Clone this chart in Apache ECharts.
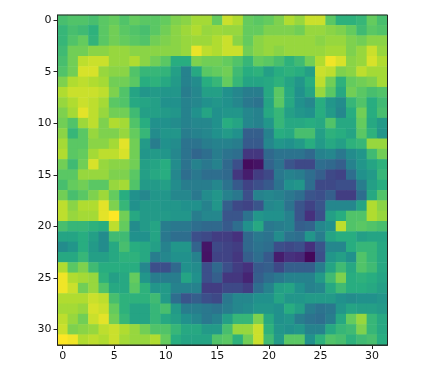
<!DOCTYPE html>
<html><head><meta charset="utf-8">
<script src="https://cdn.jsdelivr.net/npm/echarts@6/dist/echarts.min.js"></script>
<style>html,body{margin:0;padding:0;background:#fff}#c{width:423px;height:385px;filter:blur(0.7px)}</style>
</head><body><div id="c"></div>
<script>
const xCategories = Array.from({length:32},(_,i)=>String(i));
const yCategories = Array.from({length:32},(_,i)=>String(i));
const viridis = ['#440154','#472d7b','#3b528b','#2c728e','#21918c','#28ae80','#5ec962','#addc30','#fde725'];
const grid = [
[70,72,72,70,74,76,72,76,74,74,76,80,82,86,86,76, 92,88,76,74,76,80,88,84,92,92,74,64,64,66,76,70],
[66,70,68,64,74,78,74,72,70,74,78,82,85,88,84,85, 84,84,76,76,80,80,80,78,84,84,82,80,76,68,74,72],
[66,72,76,65,74,78,76,74,72,78,80,82,84,85,85,88, 92,82,76,82,84,84,84,84,84,82,84,84,80,78,82,82],
[68,78,78,82,82,84,84,82,82,82,82,82,84,97,90,88, 92,92,78,82,84,82,84,84,84,84,86,86,80,84,92,84],
[70,78,90,92,92,84,84,88,82,78,74,62,62,80,78,78, 76,72,66,76,74,70,64,68,78,88,98,94,82,84,94,88],
[72,78,94,94,84,82,82,72,66,66,65,56,44,60,74,76, 78,68,62,64,56,62,64,62,56,92,90,80,82,90,86,86],
[80,88,90,88,86,78,78,74,62,64,60,54,44,48,62,66, 76,66,58,58,60,64,58,52,62,90,78,64,76,78,80,86],
[88,92,92,92,90,80,72,58,52,54,52,52,42,46,56,56, 50,46,42,42,60,74,60,50,58,84,74,60,78,74,70,72],
[84,88,92,90,86,74,72,60,58,56,50,50,44,46,50,52, 50,46,40,38,58,74,60,50,46,62,52,48,66,72,62,68],
[80,86,96,90,84,78,78,68,56,56,54,52,44,50,58,50, 52,52,46,44,60,66,56,52,50,62,54,46,62,78,62,70],
[78,72,85,90,80,88,86,72,62,50,50,48,44,46,46,50, 62,58,46,44,52,66,60,60,62,60,72,60,60,76,60,54],
[82,66,74,84,80,80,84,76,66,48,52,52,42,44,46,50, 54,50,30,30,44,62,60,70,70,56,64,62,58,74,64,52],
[86,74,74,82,82,86,96,78,54,42,50,48,38,38,42,44, 44,42,28,28,46,52,50,54,62,54,60,56,64,66,84,84],
[88,74,76,86,90,90,94,78,52,54,52,46,38,33,36,42, 38,36,16,16,34,38,38,38,34,44,46,40,48,52,68,78],
[78,68,78,94,84,82,82,78,56,58,62,48,38,44,40,44, 34,24,3,5,32,38,26,22,22,36,34,30,44,52,58,64],
[74,74,84,84,84,80,80,74,56,60,62,46,36,40,36,36, 34,16,8,18,22,40,44,42,36,30,22,20,36,50,54,66],
[70,76,78,74,74,84,86,72,54,54,56,48,42,42,42,46, 38,28,20,24,28,38,50,52,36,22,22,24,24,42,56,62],
[78,70,74,80,85,76,62,50,46,52,52,46,46,40,48,52, 44,40,24,44,46,44,40,36,26,24,30,18,18,36,60,72],
[90,82,88,88,96,80,66,50,54,54,52,52,50,50,44,52, 30,22,20,26,46,48,38,26,20,26,46,46,46,58,88,82],
[90,84,86,86,96,100,78,60,54,54,54,52,52,42,46,46, 26,26,38,52,50,50,44,26,14,24,56,62,72,72,88,84],
[70,66,66,64,62,90,76,48,54,58,42,40,40,36,34,34, 28,36,50,60,40,42,44,30,32,46,50,90,72,74,72,70],
[58,58,62,56,48,68,68,50,50,58,40,36,36,24,22,18, 18,14,34,40,38,48,38,36,52,42,58,62,62,56,58,58],
[48,52,62,54,48,60,70,62,60,56,44,52,52,32,6,22, 20,18,34,38,36,24,22,24,14,26,46,46,62,66,66,60],
[60,60,66,56,56,60,64,64,60,42,46,50,50,44,5,20, 20,16,30,36,28,8,14,12,2,24,52,56,50,72,66,60],
[88,74,80,68,62,62,62,62,46,24,24,34,50,48,24,34, 24,18,14,28,30,22,30,30,30,42,58,68,60,72,68,60],
[98,88,86,84,64,56,60,76,52,42,42,42,58,50,24,30, 16,16,10,30,36,40,44,44,44,54,68,80,62,64,62,58],
[98,92,78,84,72,60,60,74,64,52,54,44,44,44,18,18, 22,22,18,36,44,56,58,50,44,46,60,68,62,62,60,56],
[88,88,88,92,90,70,64,64,64,68,54,36,26,30,24,22, 40,46,46,50,50,58,52,52,54,54,54,50,48,50,50,52],
[86,86,84,94,92,76,64,58,58,66,70,54,42,42,40,38, 42,46,48,52,52,50,62,56,42,38,40,52,58,56,56,54],
[90,84,78,92,96,78,66,58,58,66,60,56,50,46,40,44, 56,66,66,80,60,50,52,42,38,36,42,60,76,84,66,60],
[92,80,82,84,90,92,88,84,78,72,72,66,60,60,54,54, 70,84,84,92,64,52,50,52,44,44,60,66,68,80,66,60],
[100,98,88,90,88,92,86,84,84,88,76,62,58,58,58,72, 74,64,78,92,68,54,74,74,50,64,72,70,64,68,70,62]
];
const cells = [];
grid.forEach((row,r)=>row.forEach((v,c)=>cells.push([c,r,v])));
const axisCommon = {
  type:'category',
  axisLine:{show:true,onZero:false,lineStyle:{color:'#222',width:1}},
  axisTick:{show:true,alignWithLabel:true,length:4,interval:4,lineStyle:{color:'#222'}},
  axisLabel:{interval:4,color:'#111',fontFamily:'DejaVu Sans',fontSize:11,margin:6},
  splitLine:{show:false}
};
const chart = echarts.init(document.getElementById('c'),null,{renderer:'canvas'});
chart.setOption({
  animation:false,
  backgroundColor:'#fff',
  grid:{left:57.5,top:15,width:330,height:330,show:true,borderColor:'#222',borderWidth:1,backgroundColor:'transparent',z:5},
  xAxis:Object.assign({},axisCommon,{data:xCategories,position:'bottom'}),
  yAxis:Object.assign({},axisCommon,{data:yCategories,inverse:true,position:'left'}),
  visualMap:{show:false,min:0,max:100,dimension:2,inRange:{color:viridis}},
  series:[{type:'heatmap',data:cells,progressive:0,itemStyle:{borderWidth:0},emphasis:{disabled:true}}]
});
</script></body></html>
